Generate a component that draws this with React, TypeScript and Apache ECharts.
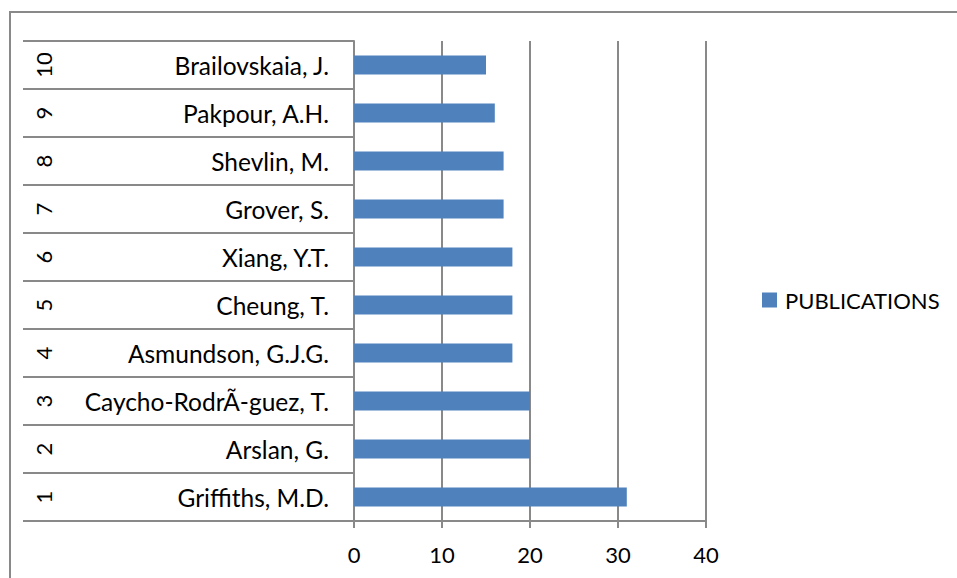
import React, { useEffect, useRef } from "react";
import * as echarts from "echarts";

const ranks = ["1", "2", "3", "4", "5", "6", "7", "8", "9", "10"];
const authors = [
  "Griffiths, M.D.",
  "Arslan, G.",
  "Caycho-RodrÃ-guez, T.",
  "Asmundson, G.J.G.",
  "Cheung, T.",
  "Xiang, Y.T.",
  "Grover, S.",
  "Shevlin, M.",
  "Pakpour, A.H.",
  "Brailovskaia, J.",
];
const publications = [31, 20, 20, 18, 18, 18, 17, 17, 16, 15];
const seriesName = "PUBLICATIONS";
const xTicks = { min: 0, max: 40, interval: 10 };

const FONT = "Lato";
const GRAY = "#898989";

export default function App() {
  const ref = useRef<HTMLDivElement>(null);
  useEffect(() => {
    if (!ref.current) return;
    const chart = echarts.init(ref.current, null, { renderer: "svg" });
    chart.setOption({
      animation: false,
      backgroundColor: "#ffffff",
      textStyle: { fontFamily: FONT },
      graphic: [
        {
          type: "rect",
          shape: { x: 10, y: 12, width: 1000, height: 1000 },
          style: { fill: "none", stroke: GRAY, lineWidth: 2 },
          silent: true,
        },
      ],
      legend: {
        data: [seriesName],
        left: 762,
        top: 289,
        padding: 0,
        itemWidth: 15,
        itemHeight: 15,
        icon: "rect",
        textStyle: { fontFamily: FONT, fontSize: 22, color: "#000", padding: [0, 0, 0, 3] },
      },
      grid: { left: 354, right: 251, top: 41, bottom: 57, containLabel: false },
      xAxis: {
        type: "value",
        min: xTicks.min,
        max: xTicks.max,
        interval: xTicks.interval,
        axisLine: { show: true, lineStyle: { color: GRAY, width: 2 } },
        axisTick: { show: true, length: 7, lineStyle: { color: GRAY, width: 2 } },
        splitLine: { show: true, lineStyle: { color: GRAY, width: 2 } },
        axisLabel: { color: "#000", fontSize: 22, fontFamily: FONT, margin: 22 },
      },
      yAxis: [
        {
          type: "category",
          data: authors,
          axisLine: { show: true, lineStyle: { color: GRAY, width: 2 } },
          axisTick: { show: true, length: 331, alignWithLabel: false, lineStyle: { color: GRAY, width: 2 } },
          axisLabel: { color: "#000", fontSize: 24.5, fontFamily: FONT, margin: 25 },
          splitLine: { show: false },
        },
        {
          type: "category",
          data: ranks,
          position: "left",
          offset: 292,
          axisLine: { show: false },
          axisTick: { show: false },
          axisLabel: { color: "#000", fontSize: 22, fontFamily: FONT, margin: 8, rotate: 90 },
          splitLine: { show: false },
        },
      ],
      series: [
        {
          name: seriesName,
          type: "bar",
          yAxisIndex: 0,
          data: publications,
          barWidth: 19,
          itemStyle: { color: "#4F81BD" },
        },
      ],
    });
    return () => chart.dispose();
  }, []);
  return (
    <div
      ref={ref}
      style={{ position: "fixed", left: 0, top: 0, width: 957, height: 578 }}
    />
  );
}
